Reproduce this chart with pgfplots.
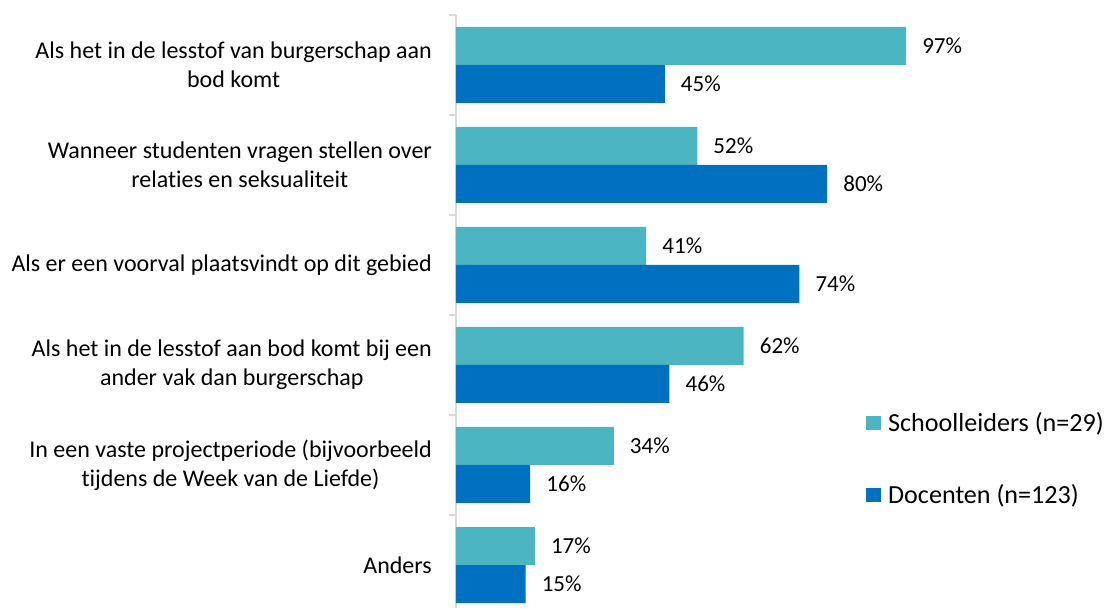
\documentclass[border=0pt]{standalone}
\usepackage{pgfplots}
\pgfplotsset{compat=1.18}
\usepackage{fontspec}
\setmainfont{Carlito}[Ligatures=NoCommon]
\definecolor{teal1}{HTML}{4BB5C2}
\definecolor{blue1}{HTML}{0070C0}
\definecolor{axgray}{HTML}{D9D9D9}
\begin{document}
\begin{tikzpicture}
\useasboundingbox (-456pt,0pt) rectangle (655pt,608pt);
\begin{axis}[
  at={(0pt,0pt)}, anchor=south west,
  scale only axis, width=464pt, height=593pt,
  xmin=0, xmax=100, ymin=-0.43, ymax=5.5,
  xbar, bar width=0.38,
  hide x axis,
  axis y line*=left,
  y axis line style={axgray, line width=1.2pt},
  ytick={0,1,2,3,4,5},
  yticklabels={Anders,
    {In een vaste projectperiode (bijvoorbeeld\\tijdens de Week van de Liefde)},
    {Als het in de lesstof aan bod komt bij een\\ander vak dan burgerschap},
    {Als er een voorval plaatsvindt op dit gebied},
    {Wanneer studenten vragen stellen over\\relaties en seksualiteit},
    {Als het in de lesstof van burgerschap aan\\bod komt}},
  major tick length=0pt,
  minor ytick={0.5,1.5,2.5,3.5,4.5,5.5},
  minor tick length=7pt,
  tick align=outside,
  minor y tick style={axgray, line width=1.2pt},
  yticklabel style={align=center, inner sep=0pt, xshift=-24pt,
    font=\fontsize{24pt}{29pt}\selectfont},
  point meta=x,
  nodes near coords={\pgfmathprintnumber{\pgfplotspointmeta}\%},
  /pgf/number format/assume math mode=true,
  nodes near coords style={anchor=west, inner sep=0pt, xshift=16pt,
    font=\fontsize{23pt}{27pt}\selectfont, text=black},
  legend style={at={(0.8836,0.2513)}, anchor=west, draw=none, fill=none,
    font=\fontsize{26.1pt}{30pt}\selectfont, row sep=51pt, inner sep=0pt,
    nodes={inner sep=0pt}, /tikz/every odd column/.append style={column sep=7pt}},
  legend cell align=left,
  legend image code/.code={\fill[#1] (0pt,-7pt) rectangle (15pt,7pt);},
]
\addplot[fill=teal1, draw=none, bar shift=0.19] coordinates {
  (17,0) (34,1) (62,2) (41,3) (52,4) (97,5)};
\addlegendentry{Schoolleiders (n=29)}
\addplot[fill=blue1, draw=none, bar shift=-0.19] coordinates {
  (15,0) (16,1) (46,2) (74,3) (80,4) (45,5)};
\addlegendentry{Docenten (n=123)}
\end{axis}
\end{tikzpicture}
\end{document}
